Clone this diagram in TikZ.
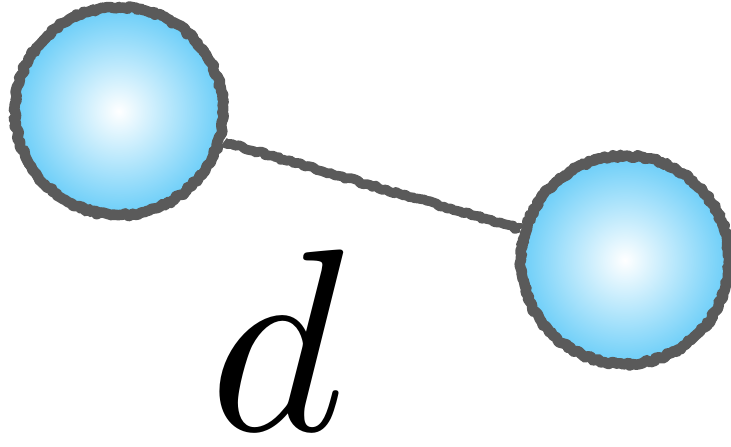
\documentclass[tikz,border=0pt]{standalone}
\usetikzlibrary{decorations.pathmorphing}
\definecolor{chalk}{RGB}{90,90,90}
\definecolor{sky}{RGB}{105,205,248}
\begin{document}
\begin{tikzpicture}[ball/.style={circle,minimum size=4.16cm,inner sep=0pt,shading=radial,inner color=white,outer color=sky,draw=chalk,line width=6pt,line join=round,decorate,decoration={random steps,segment length=1.5pt,amplitude=0.9pt}},rough/.style={draw=chalk,line width=5.5pt,line join=round,decorate,decoration={random steps,segment length=1.8pt,amplitude=0.8pt}},label/.style={inner sep=0pt,anchor=base,scale=14.8}]
\useasboundingbox (0,0) rectangle (14.62,8.92);
\node[ball] (left) at (2.38,6.70) {};
\node[ball] (right) at (12.5,3.72) {};
\draw[rough] (left) -- (right);
\node[label] (dist) at (5.54,0.30) {$d$};
\end{tikzpicture}
\end{document}
